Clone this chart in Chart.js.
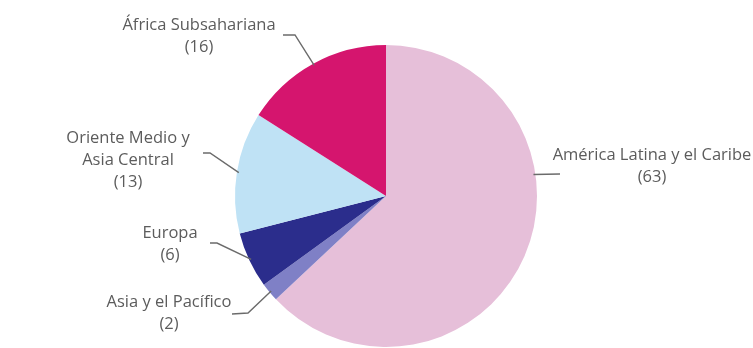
<!DOCTYPE html>
<html>
<head>
<meta charset="utf-8">
<script src="https://cdn.jsdelivr.net/npm/chart.js@4"></script>
<style>
  html, body { margin: 0; padding: 0; background: #fff; }
  #wrap { width: 753px; height: 348px; }
</style>
</head>
<body>
<div id="wrap"><canvas id="c" width="753" height="348"></canvas></div>
<script>
// Regional share, clockwise from 12 o'clock
const regions = ["América Latina y el Caribe", "Asia y el Pacífico", "Europa", "Oriente Medio y\nAsia Central", "África Subsahariana"]
const shares = [63, 2, 6, 13, 16]
const colors = ["#e6bfd9", "#7f80c6", "#2b2d8c", "#bfe2f5", "#d5156e"]

// Where each callout sits: text centre, first baseline, leader end, and
// optional edge angle (deg from top) where the leader touches the pie
const callouts = [
  { tx: 652, ty: 160, lx: 560, ly: 174, edge: 81.7, bend: null },
  { tx: 169, ty: 307, lx: 232, ly: 314, edge: null, bend: [248, 313] },
  { tx: 170, ty: 238, lx: 210, ly: 243, edge: null, bend: [217, 243] },
  { tx: 128, ty: 143, lx: 203, ly: 153, edge: null, bend: [210, 153] },
  { tx: 199, ty: 30, lx: 283, ly: 35, edge: null, bend: [295, 35] }
]

const calloutPlugin = {
  id: "callouts",
  afterDatasetsDraw(chart) {
    const ctx = chart.ctx
    const arcs = chart.getDatasetMeta(0).data
    ctx.save()
    arcs.forEach((arc, i) => {
      const c = callouts[i]
      const mid = c.edge != null ? (c.edge - 90) * Math.PI / 180 : (arc.startAngle + arc.endAngle) / 2
      const r = arc.outerRadius - 2
      const ex = arc.x + Math.cos(mid) * r
      const ey = arc.y + Math.sin(mid) * r
      ctx.strokeStyle = "#6b6b6b"
      ctx.lineWidth = 1.4
      ctx.beginPath()
      ctx.moveTo(c.lx, c.ly)
      if (c.bend) ctx.lineTo(c.bend[0], c.bend[1])
      ctx.lineTo(ex, ey)
      ctx.stroke()

      ctx.fillStyle = "#5c5c5c"
      ctx.font = "16.5px 'Open Sans', sans-serif"
      ctx.textAlign = "center"
      ctx.textBaseline = "alphabetic"
      const lines = regions[i].split("\n").concat("(" + shares[i] + ")")
      lines.forEach((t, k) => ctx.fillText(t, c.tx, c.ty + k * 22))
    })
    ctx.restore()
  }
}

new Chart(document.getElementById("c"), {
  type: "pie",
  data: {
    labels: regions,
    datasets: [{
      data: shares,
      backgroundColor: colors,
      borderWidth: 0
    }]
  },
  options: {
    responsive: false,
    animation: false,
    layout: { padding: { top: 45, bottom: 1, left: 235, right: 216 } },
    plugins: { legend: { display: false }, tooltip: { enabled: false } }
  },
  plugins: [calloutPlugin]
})
</script>
</body>
</html>
